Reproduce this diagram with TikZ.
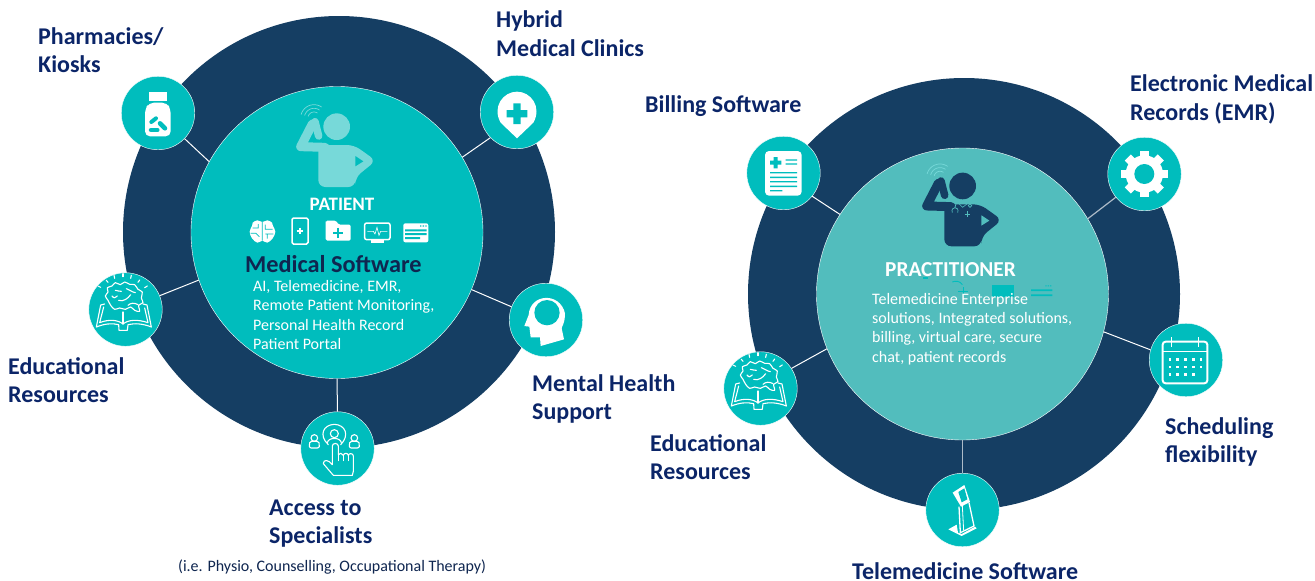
\documentclass[tikz,border=0pt]{standalone}
\usepackage{fontspec}
\setmainfont{Carlito}
\definecolor{navy}{HTML}{153E63}
\definecolor{teal1}{HTML}{00BDBD}
\definecolor{teal2}{HTML}{52BDBD}
\definecolor{lightp}{HTML}{77D9D9}
\definecolor{labelc}{HTML}{0B2568}
\definecolor{titlec}{HTML}{0F2650}
\tikzset{
  bigdisc/.style={circle,fill=navy,minimum size=432pt,inner sep=0pt},
  hubA/.style={circle,fill=teal1,draw=white,line width=.4pt,minimum size=292pt,inner sep=0pt},
  hubB/.style={circle,fill=teal2,draw=white,line width=.4pt,minimum size=292pt,inner sep=0pt},
  spot/.style={circle,fill=teal1,draw=white,line width=.4pt,minimum size=73.5pt,inner sep=0pt},
  link/.style={draw=white,line width=1pt},
  greylink/.style={draw=white!65!navy,line width=1.2pt},
  lab/.style={anchor=west,align=left,text=labelc,inner sep=0pt,font=\fontsize{24}{28.6}\selectfont\bfseries},
  small/.style={anchor=base west,inner sep=0pt,text=white,font=\fontsize{16}{18}\selectfont},
  ico/.style={draw=white,line width=1.1pt,line join=round,line cap=round},
}
\newcommand\personshape[2]{%
  \fill[#1] (320,110) circle[radius=40];
  \draw[#1,line width=9pt,line cap=round,line join=round] (247,102) -- (212,170) -- (285,172);
  \draw[#1,line width=7.5pt,line cap=round] (255,95) -- (266,138);
  \fill[#1,rounded corners=7pt] (265,165) -- (372,165) -- (438,212) -- (376,262) -- (376,291) -- (265,291) -- cycle;
  \fill[#2] (376,198) -- (400,214) -- (376,229) -- cycle;
  \foreach \r in {18,29,40}
    \draw[lightp,line width=.7pt] plot[domain=55:165,samples=12,smooth] ({252+\r*cos(\x)},{84-\r*sin(\x)});
}
\newcommand\eduicon{%
  \foreach \ax/\ay/\bx/\by in {30/42/38/46,55/25/60/31,78/10/80/19,105/5/105/14,130/10/128/19,155/24/150/31,178/42/170/47}
    \draw[ico] (\ax,\ay) -- (\bx,\by);
  \draw[ico] plot[smooth cycle,tension=.55] coordinates {(60,85)(52,72)(60,60)(58,47)(72,42)(82,32)(97,38)(110,30)(125,37)(140,38)(150,52)(163,60)(160,78)(165,92)(152,100)(155,118)(140,115)(128,105)(112,112)(95,108)(80,112)(68,100)};
  \draw[ico] (82,55) .. controls (90,52) and (92,62) .. (100,58);
  \draw[ico] (92,85) .. controls (105,90) and (120,80) .. (128,68);
  \draw[ico] (115,50) .. controls (125,52) and (130,60) .. (142,62);
  \draw[ico] (120,100) .. controls (128,92) and (140,92) .. (150,98);
  \draw[ico] (72,72) .. controls (78,80) and (82,78) .. (88,72);
  \draw[ico] (50,96) -- (38,99) -- (25,165) .. controls (50,155) and (72,153) .. (92,158) -- (93,175) -- (118,175) -- (120,158) .. controls (140,153) and (165,155) .. (190,165) -- (177,99) -- (165,96);
  \draw[ico] (47,105) -- (35,152) .. controls (60,142) and (88,142) .. (105,156) .. controls (122,142) and (150,142) .. (180,152) -- (170,108);
  \draw[ico] (105,120) -- (105,156);
}
\begin{document}
\begin{tikzpicture}[x=1pt,y=-1pt]
\useasboundingbox (0,0) rectangle (1315,581);
\fill[white] (0,0) rectangle (1315,581);
% discs
\node[bigdisc] (outerL) at (339,232) {};
\node[bigdisc] (outerR) at (964,294) {};
\node[hubA] (hubL) at (337,232.5) {};
\node[hubB] (hubR) at (962.5,294) {};
% spots
\node[spot] (pill) at (158,113) {};
\node[spot] (clinic) at (517,112) {};
\node[spot] (mental) at (546,320) {};
\node[spot] (special) at (337.5,448.5) {};
\node[spot] (eduL) at (125.5,309.5) {};
\node[spot] (bill) at (783.5,173) {};
\node[spot] (gear) at (1144.5,174) {};
\node[spot] (cal) at (1186,360) {};
\node[spot] (kiosk) at (962.5,510) {};
\node[spot] (eduR) at (760.5,388.5) {};
% connectors
\draw[link] (hubL.151) -- (pill.-44);
\draw[link] (hubL.31) -- (clinic.224);
\draw[link] (hubL.-23) -- (mental.159);
\draw[link] (hubL.-90) -- (special.90);
\draw[link] (hubL.199.5) -- (eduL.22);
\draw[link] (hubR.147) -- (bill.-39);
\draw[greylink] (hubR.31.4) -- (gear.219);
\draw[link] (hubR.-15) -- (cal.164.5);
\draw[greylink] (hubR.-90) -- (kiosk.90);
\draw[link] (hubR.202) -- (eduR.33);
% persons
\begin{scope}[shift={(230,90)},scale=1/3]
  \personshape{lightp}{teal1}
\end{scope}
\begin{scope}[shift={(856,149.3)},scale=1/3]
  \personshape{navy}{teal2}
  \draw[teal2,line width=.6pt] (302,157) -- (320,174) -- (342,157);
  \draw[teal2,line width=.7pt] (289,190) .. controls (282,170) and (312,170) .. (305,190);
  \draw[teal2,line width=.7pt] (302,157) -- (297,174);
  \draw[teal2,line width=.7pt] (342,169) circle[radius=5];
  \draw[teal2,line width=.9pt] (326,194) -- (342,194) (334,186) -- (334,202);
\end{scope}
% patient small icons
\begin{scope}[shift={(230,90)},scale=1/3]
  % brain
  \fill[white] plot[smooth cycle,tension=.6] coordinates {(59,425)(66,408)(68,398)(82,391)(97,396)(112,391)(126,398)(129,408)(136,425)(128,445)(112,458)(97,452)(82,458)(66,445)};
  \draw[teal1,line width=.7pt] (97,396) -- (97,452) (68,414) -- (85,414) -- (85,402) (62,430) -- (78,430) -- (88,440) (106,404) -- (106,418) -- (128,418) (106,432) -- (130,432) (112,446) -- (112,432);
  % phone
  \draw[white,line width=1.5pt,rounded corners=1.5pt] (186,384) rectangle (234,462);
  \draw[white,line width=1.1pt] (200,423) -- (220,423) (210,413) -- (210,433);
  % folder
  \fill[white,rounded corners=1.5pt] (287,397) -- (287,392) -- (318,392) -- (326,404) -- (362,404) -- (362,452) -- (287,452) -- cycle;
  \draw[teal1,line width=1.8pt] (310,428) -- (340,428) (325,413) -- (325,443);
  % monitor
  \draw[white,line width=1.5pt,rounded corners=2pt] (404,399) rectangle (480,449);
  \fill[white] (422,449) rectangle (462,460);
  \draw[white,line width=.6pt] (412,424) -- (430,424) -- (435,432) -- (441,412) -- (447,436) -- (452,424) -- (472,424);
  % card
  \fill[white,rounded corners=2pt] (520,400) rectangle (595,457);
  \fill[teal1] (525,418) rectangle (590,424) (525,429) rectangle (590,435) (525,441) rectangle (570,447);
  \fill[teal1] (570,406) rectangle (574,410) (578,406) rectangle (582,410) (586,406) rectangle (590,410);
\end{scope}
% remnants behind practitioner text
\begin{scope}[shift={(860,150)},scale=1/3]
  \fill[teal1] (190,382) rectangle (205,387);
  \draw[teal1,line width=.9pt] (277,396) .. controls (285,392) and (300,392) .. (307,404);
  \draw[teal1,line width=1.1pt] (295,425) -- (325,425) (310,411) -- (310,439);
  \fill[teal1] (395,404) rectangle (461,440);
  \fill[teal1] (513,418) rectangle (577,423) (513,433) rectangle (577,438);
  \fill[teal1] (556,406) rectangle (560,409) (563,406) rectangle (567,409) (570,406) rectangle (574,409);
\end{scope}
% pill bottle
\begin{scope}[shift={(80,70)},scale=1/3]
  \fill[white] (207,65) rectangle (261,92);
  \fill[white,rounded corners=5pt] (207,98) -- (261,98) -- (272,118) -- (272,199) -- (195,199) -- (195,118) -- cycle;
  \draw[teal1,line width=4pt,line cap=round] (214,156) -- (228,145);
  \draw[teal1,line width=4.5pt,line cap=round] (240,160) -- (255,175);
  \draw[teal1,line width=4.5pt,line cap=round] (213,180) -- (232,180);
\end{scope}
% clinic pin and mental head
\begin{scope}[shift={(290,70)},scale=1/3]
  \fill[white] (681,205) -- (632,158) .. controls (605,110) and (640,65) .. (681,65) .. controls (722,65) and (757,110) .. (730,158) -- cycle;
  \fill[teal1] (670,100) rectangle (692,162) (650,120) rectangle (712,142);
  \fill[white] (752,828) -- (750,802) -- (722,802) -- (718,770) -- (703,768) -- (716,735) .. controls (720,670) and (810,665) .. (825,730) .. controls (825,760) and (815,770) .. (815,775) -- (822,808) -- cycle;
  \fill[teal1] (771,728) circle[radius=38];
\end{scope}
% specialists
\begin{scope}[shift={(300,412)},scale=1/3]
  \draw[ico] (85,98) .. controls (55,70) and (70,38) .. (103,37) .. controls (136,38) and (150,70) .. (122,98);
  \draw[ico] (103,65) circle[radius=12];
  \draw[ico] (82,92) .. controls (85,75) and (121,75) .. (124,92);
  \draw[ico] (43,78) circle[radius=10];
  \draw[ico,rounded corners=2pt] (28,108) -- (28,98) .. controls (30,86) and (56,86) .. (58,98) -- (58,108) -- cycle;
  \draw[ico] (163,78) circle[radius=10];
  \draw[ico,rounded corners=2pt] (148,108) -- (148,98) .. controls (150,86) and (176,86) .. (178,98) -- (178,108) -- cycle;
  \draw[ico] (97,158) -- (97,102) .. controls (97,92) and (115,92) .. (115,102) -- (115,128) .. controls (117,122) and (128,122) .. (130,130) .. controls (132,122) and (143,122) .. (145,130) .. controls (147,122) and (160,124) .. (160,132) -- (160,178) -- (157,190) -- (100,190) -- (70,155) .. controls (70,142) and (85,142) .. (97,158);
  \draw[ico] (130,130) -- (130,146) (145,130) -- (145,146) (115,128) -- (115,146);
\end{scope}
% education icons
\begin{scope}[shift={(88,272)},scale=1/3] \eduicon \end{scope}
\begin{scope}[shift={(723,351)},scale=1/3] \eduicon \end{scope}
% billing document
\begin{scope}[shift={(720,130)},scale=1/3]
  \fill[white,rounded corners=4pt] (135,63) rectangle (245,197);
  \fill[teal1] (161,81) rectangle (173,115) (150,92) rectangle (184,104);
  \fill[teal1] (197,88) rectangle (231,92) (197,100) rectangle (231,104);
  \fill[teal1] (150,126) rectangle (231,130) (150,140) rectangle (231,144) (150,153) rectangle (231,157) (150,167) rectangle (231,171) (150,180) rectangle (187,184);
\end{scope}
% gear, calendar
\begin{scope}[shift={(920,130)},scale=1/3]
  \fill[white] (673,132) circle[radius=56];
  \foreach \a in {0,45,...,315}
    \fill[white,rotate around={\a:(673,132)}] (660,132) -- (660,62) -- (686,62) -- (686,132) -- cycle;
  \fill[teal1] (673,132) circle[radius=30];
  \draw[white,line width=2pt,rounded corners=3pt] (728,635) rectangle (862,760);
  \draw[white,line width=1.6pt] (728,664) -- (862,664);
  \draw[white,line width=1.4pt] (755,622) -- (755,650) (835,622) -- (835,650);
  \foreach \x in {750,773,797,820,843}
    \foreach \y in {688,711}
      \fill[white] (\x-4,\y-4) rectangle (\x+4,\y+4);
  \foreach \x in {750,773,797,820}
    \fill[white] (\x-4,729) rectangle (\x+4,737);
\end{scope}
% kiosk
\begin{scope}[shift={(930,480)},scale=1/3]
  \fill[white] (55,148) -- (80,134) -- (84,158) -- (95,162) -- (135,140) -- (140,145) -- (95,168) -- cycle;
  \fill[white] (68,38) -- (103,15) -- (120,66) -- (93,80) -- cycle;
  \fill[teal1] (85,36) -- (103,25) -- (112,58) -- (95,67) -- cycle;
  \draw[white,line width=1.3pt] (87,80) -- (91,158) -- (132,138) -- (117,68);
  \draw[white,line width=.8pt] (97,78) -- (101,152);
\end{scope}
% labels
\node[lab] (tPharm) at (38,50) {Pharmacies/\\Kiosks};
\node[lab] (tHybrid) at (496,33.5) {Hybrid\\Medical Clinics};
\node[lab] (tEduL) at (8,380) {Educational\\Resources};
\node[lab] (tMental) at (532,399) {Mental Health\\Support};
\node[lab] (tAccess) at (269,523.5) {Access to\\Specialists};
\node[lab] (tBill) at (645,106) {Billing Software};
\node[lab] (tEMR) at (1130,99.5) {Electronic Medical\\Records (EMR)};
\node[lab] (tSched) at (1165,442) {Scheduling\\flexibility};
\node[lab] (tEduR) at (650,457) {Educational\\Resources};
\node[lab,anchor=base west,align=none] (tTele) at (852,579) {Telemedicine Software};
\node[small,text=titlec] (tIe) at (178,571) {(i.e. Physio, Counselling, Occupational Therapy)};
% hub text
\node[anchor=base,inner sep=0pt,text=white,font=\fontsize{19}{22}\selectfont\bfseries] (tPat) at (342,210) {PATIENT};
\node[anchor=base west,inner sep=0pt,text=titlec,font=\fontsize{24.3}{28}\selectfont\bfseries] (tMed) at (245,272) {Medical Software};
\node[small] (p1) at (253,291) {AI, Telemedicine, EMR,};
\node[small] (p2) at (253,310) {Remote Patient Monitoring,};
\node[small] (p3) at (253,330) {Personal Health Record};
\node[small] (p4) at (253,349) {Patient Portal};
\node[anchor=base west,inner sep=0pt,text=white,font=\fontsize{21.3}{24}\selectfont\bfseries] (tPrac) at (885,276) {PRACTITIONER};
\node[small] (q1) at (872,304) {Telemedicine Enterprise};
\node[small] (q2) at (872,323) {solutions, Integrated solutions,};
\node[small] (q3) at (872,342) {billing, virtual care, secure};
\node[small] (q4) at (872,362) {chat, patient records};
\end{tikzpicture}
\end{document}
